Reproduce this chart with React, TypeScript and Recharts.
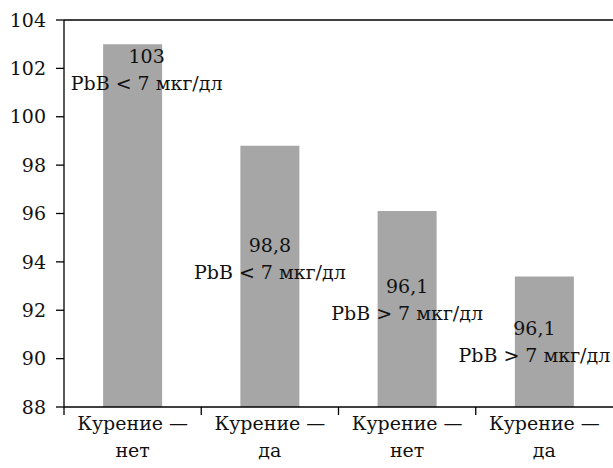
import { BarChart, Bar, XAxis, YAxis, ReferenceLine, LabelList } from 'recharts';

const W = 613;
const H = 468;
const M = { top: 20, right: 0, bottom: 0, left: 0 };
const Y_W = 64;
const X_H = 61;
const FONT = "'DejaVu Serif', 'Liberation Serif', serif";
const FS = 19;

const categories = ['Курение —|нет', 'Курение —|да', 'Курение —|нет', 'Курение —|да'];
const values = [103, 98.8, 96.1, 93.4];
const valueLabels = ['103', '98,8', '96,1', '96,1'];
const groupLabels = ['PbB < 7 мкг/дл', 'PbB < 7 мкг/дл', 'PbB > 7 мкг/дл', 'PbB > 7 мкг/дл'];
const yTicks = [88, 90, 92, 94, 96, 98, 100, 102, 104];

const data = categories.map((c, i) => ({
  cat: c,
  value: values[i],
  vl: valueLabels[i],
  gl: groupLabels[i],
}));

// label placement below each bar top (px), as in the source figure
const labelDrop = [12, 99, 75, 52];
const labelShift = [14, 0, 0, -10];
const halfBand = (W - Y_W - M.right) / categories.length / 2;
const txt = { fontFamily: FONT, fontSize: FS, fill: '#111' };

const CatTick = ({ x, y, payload }: any) => {
  const [a, b] = String(payload.value).split('|');
  return (
    <g>
      <line x1={x - halfBand} y1={y - 8} x2={x - halfBand} y2={y} stroke="#000" strokeWidth={1.3} />
      <text x={x} y={y + 15} textAnchor="middle" style={txt}>
        {a}
      </text>
      <text x={x} y={y + 42} textAnchor="middle" style={txt}>
        {b}
      </text>
    </g>
  );
};

const BarLabel = (props: any) => {
  const { x, y, width, index } = props;
  const cx = x + width / 2 + labelShift[index];
  const ty = y + labelDrop[index];
  return (
    <g>
      <text x={cx} y={ty} textAnchor="middle" dominantBaseline="central" style={txt}>
        {data[index].vl}
      </text>
      <text x={cx} y={ty + 27} textAnchor="middle" dominantBaseline="central" style={txt}>
        {data[index].gl}
      </text>
    </g>
  );
};

export default function App() {
  return (
    <div style={{ position: 'fixed', left: 0, top: 0, background: '#fff' }}>
      <BarChart width={W} height={H} data={data} margin={M} barCategoryGap="28.5%">
        <XAxis
          dataKey="cat"
          height={X_H}
          tick={<CatTick />}
          tickLine={false}
          axisLine={{ stroke: '#000', strokeWidth: 1.3 }}
          interval={0}
        />
        <YAxis
          domain={[88, 104]}
          ticks={yTicks}
          width={Y_W}
          tickSize={8}
          tickMargin={10}
          interval={0}
          allowDataOverflow
          axisLine={{ stroke: '#000', strokeWidth: 1.3 }}
          tickLine={{ stroke: '#000', strokeWidth: 1.3 }}
          tick={{ style: txt }}
        />
        <ReferenceLine y={104} stroke="#000" strokeWidth={1.5} />
        <Bar dataKey="value" fill="#a6a6a6" isAnimationActive={false}>
          <LabelList dataKey="value" content={<BarLabel />} />
        </Bar>
      </BarChart>
    </div>
  );
}
